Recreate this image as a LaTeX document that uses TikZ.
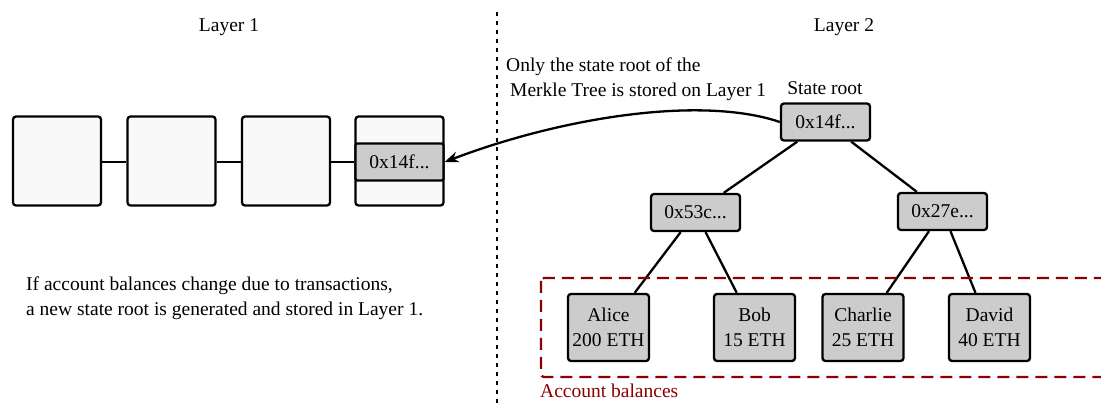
\documentclass[tikz,border=0pt]{standalone}
\usepackage{fontspec}
\setmainfont{Liberation Serif}
\usetikzlibrary{arrows.meta}
\definecolor{nodegray}{HTML}{CCCCCC}
\definecolor{blockfill}{HTML}{F9F9F9}
\definecolor{acctred}{HTML}{8B0000}
\tikzset{
  treenode/.style={draw, line width=2.3pt, rounded corners=3pt, fill=nodegray, inner sep=0pt, align=center, font=\fontsize{19.5}{25}\selectfont},
  hashnode/.style={treenode, minimum width=89pt, minimum height=37pt},
  leafnode/.style={treenode, minimum width=81pt, minimum height=67pt},
  blocknode/.style={draw, line width=2.3pt, rounded corners=3pt, fill=blockfill, minimum width=88pt, minimum height=89pt, inner sep=0pt},
  txt/.style={inner sep=0pt, font=\fontsize{19.5}{24.5}\selectfont},
  link/.style={line width=2.3pt},
}
\begin{document}
\begin{tikzpicture}[x=1pt,y=-1pt]
\useasboundingbox (0,0) rectangle (1101,403);
% layer labels
\node[txt] (l1) at (229,27) {Layer 1};
\node[txt] (l2) at (844,27) {Layer 2};
% divider
\coordinate (dtop) at (497,12);
\coordinate (dbot) at (497,403);
\draw[line width=2.6pt, dash pattern=on 4pt off 5pt] (dtop) -- (dbot);
% blockchain
\node[blocknode] (b1) at (57,161) {};
\node[blocknode] (b2) at (171.5,161) {};
\node[blocknode] (b3) at (286,161) {};
\node[blocknode] (b4) at (399.5,161) {};
\node[treenode, minimum width=88pt, minimum height=37pt, rounded corners=2pt] (inner) at (399.5,162) {0x14f...};
\draw[link] (b1.east |- inner) -- (b2.west |- inner);
\draw[link] (b2.east |- inner) -- (b3.west |- inner);
\draw[link] (b3.east |- inner) -- (b4.west |- inner);
% text left
\node[txt, anchor=west, align=left] (note) at (26,298) {If account balances change due to transactions,\\a new state root is generated and stored in Layer 1.};
% annotation
\node[txt, anchor=west, align=left] (ann) at (506,79) {Only the state root of the\\\hspace{4pt}Merkle Tree is stored on Layer 1};
\node[txt] (srlabel) at (825,88) {State root};
% tree
\node[hashnode] (root) at (825.5,122) {0x14f...};
\node[hashnode] (h1) at (695.5,212.5) {0x53c...};
\node[hashnode] (h2) at (942.5,211.5) {0x27e...};
\node[leafnode] (alice) at (608.5,327.5) {Alice\\200 ETH};
\node[leafnode] (bob) at (754.5,327.5) {Bob\\15 ETH};
\node[leafnode] (charlie) at (863,327.5) {Charlie\\25 ETH};
\node[leafnode] (david) at (989.5,327.5) {David\\40 ETH};
\draw[link] (root) -- (h1);
\draw[link] (root) -- (h2);
\draw[link] (h1) -- (alice);
\draw[link] (h1) -- (bob);
\draw[link] (h2) -- (charlie);
\draw[link] (h2) -- (david);
% account balances box
\draw[acctred, line width=2.3pt, dash pattern=on 12pt off 7pt, rounded corners=3pt] (541,278) rectangle (1108,377);
\node[txt, anchor=west, text=acctred] (acct) at (540,391) {Account balances};
% arrow
\draw[line width=2.3pt, -{Stealth[length=14pt,width=11pt]}] (root.west) .. controls (700,95) and (560,118) .. (inner.east);
\end{tikzpicture}
\end{document}
